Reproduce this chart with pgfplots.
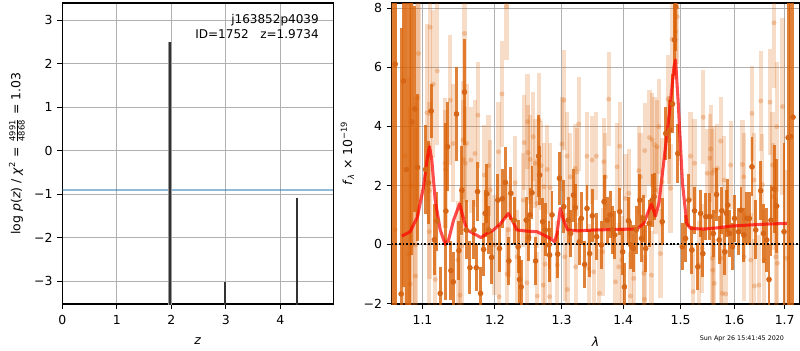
\documentclass[border=0pt]{standalone}
\usepackage{amsmath}
\usepackage{fontspec}
\setmainfont{DejaVu Sans}
\usepackage{pgfplots}
\pgfplotsset{compat=1.18}
\usepackage{pgfplotstable}

\definecolor{dorange}{RGB}{217,95,2}
\definecolor{darkpt}{RGB}{214,102,22}
\definecolor{gridgray}{RGB}{176,176,176}
\definecolor{tabblue}{RGB}{31,119,180}

\pgfplotstableread{
x y e
1.0612 9.0 12
1.0645 6.11 9
1.0722 -1.68 9
1.0752 5.54 7
1.0791 2.54 6
1.0829 -3.0 12
1.0861 4.15 4.5
1.0900 4.59 3.5
1.0934 2.61 2.5
1.1040 2.54 1.5
1.1079 2.09 1.4
1.1115 4.52 0.9
1.1158 0.16 1.2
1.1193 0.79 1.0
1.1237 -1.66 0.9
1.1314 1.13 3.0
1.1336 3.31 1.5
1.1382 -0.89 1.0
1.1414 -1.27 1.0
1.1459 4.42 1.6
1.1492 -0.21 1.0
1.1533 1.83 1.5
1.1569 5.16 1.8
1.1593 0.49 1.0
1.1645 -0.79 0.9
1.1701 0.49 1.0
1.1734 -0.79 0.8
1.1752 1.79 1.0
1.1795 -1.66 0.9
1.1838 -0.17 0.9
1.1861 1.05 0.8
1.1885 1.71 1.0
1.1908 0.49 0.8
1.1951 -0.44 0.9
1.2043 1.50 0.9
1.2066 -0.14 0.8
1.2110 1.55 1.0
1.2153 2.10 1.2
1.2203 -0.56 0.8
1.2232 1.73 0.9
1.2281 0.82 0.8
1.2340 -0.08 0.9
1.2360 -1.19 0.8
1.2385 -1.44 0.9
1.2460 0.82 0.8
1.2495 0.24 0.8
1.2516 1.00 0.9
1.2546 1.75 0.9
1.2601 -0.56 0.8
1.2647 2.99 1.4
1.2662 2.35 1.0
1.2708 0.77 0.8
1.2748 0.49 0.9
1.2806 -0.02 0.8
1.2815 -0.36 0.9
1.2852 1.00 0.8
1.2941 -0.33 0.8
1.2967 2.24 0.9
1.3035 1.28 0.9
1.3105 0.82 0.8
1.3143 0.37 0.8
1.3188 1.67 0.9
1.3217 1.25 0.8
1.3281 0.09 0.8
1.3313 0.88 0.9
1.3366 -0.68 0.8
1.3404 1.22 0.8
1.3447 -0.31 0.8
1.3491 0.97 0.9
1.3561 0.26 0.8
1.3638 -0.02 0.8
1.3682 1.45 0.9
1.3737 0.82 0.8
1.3781 1.00 0.8
1.3824 0.49 0.8
1.3858 0.32 0.8
1.3942 1.11 0.8
1.3992 -0.25 0.8
1.4021 -1.44 0.8
1.4089 0.80 0.8
1.4128 -0.02 0.8
1.4169 -0.14 0.8
1.4220 0.49 0.8
1.4282 1.50 0.9
1.4311 0.20 0.8
1.4340 0.88 0.8
1.4385 -0.14 0.8
1.4444 0.71 0.8
1.4496 1.50 0.9
1.4531 1.62 0.8
1.4672 0.77 0.8
1.4735 3.76 0.9
1.4806 3.88 1.0
1.4855 4.76 1.0
1.4891 6.93 1.2
1.4914 8.05 1.5
1.4950 3.08 1.0
1.5030 -0.08 0.8
1.5090 0.20 0.8
1.5150 1.50 0.9
1.5205 -0.19 0.8
1.5254 1.14 0.8
1.5315 -0.76 0.8
1.5365 1.05 0.8
1.5408 -0.31 0.8
1.5463 0.94 0.8
1.5538 0.94 0.8
1.5601 0.37 0.8
1.5663 1.69 0.9
1.5713 0.15 0.8
1.5763 1.14 0.8
1.5820 -0.25 0.8
1.5852 1.05 0.8
1.5876 1.33 0.9
1.5909 0.37 0.8
1.5966 -0.08 0.8
1.6004 0.88 0.8
1.6081 0.43 0.8
1.6129 1.16 0.8
1.6184 0.32 0.9
1.6240 0.88 0.9
1.6293 0.88 0.9
1.6344 2.63 1.0
1.6417 0.49 1.0
1.6516 1.82 1.0
1.6570 0.37 1.0
1.6636 0.15 1.1
1.6682 -1.19 1.2
1.6722 0.82 1.2
1.6783 1.88 1.5
1.6838 1.30 1.6
1.6987 0.43 3.0
1.7069 3.62 9
1.7123 3.65 9
1.7171 4.31 9
}\darktab

\pgfplotstableread{
x y e
1.0645 0.5 9
1.0773 3.0 9
1.0855 2.0 8
1.0947 6.47 5
1.1102 7.36 3
1.0934 4.97 4
1.1058 4.46 3
1.0904 -0.02 5
1.0821 -0.34 6
1.0838 -1.34 6
1.0908 -1.07 5
1.1089 0.43 3
1.1092 1.82 3
1.1197 5.88 2.5
1.1145 5.43 2.5
1.1171 -1.19 2.5
1.1373 4.89 2.2
1.1302 2.75 2.2
1.1307 2.54 2.0
1.1410 3.42 2.0
1.1547 3.54 2.0
1.1569 7.15 2.0
1.1597 3.42 2.0
1.1555 2.88 2.0
1.1580 2.75 1.9
1.1528 -0.06 2.0
1.1478 -0.53 2.0
1.1506 -1.72 2.0
1.1659 2.86 1.8
1.1715 3.08 1.8
1.1758 4.38 1.8
1.1847 2.35 1.7
1.1908 2.67 1.7
1.1933 1.84 1.7
1.1994 -0.02 1.7
1.2052 3.14 1.7
1.2062 -1.77 1.7
1.2101 5.10 1.8
1.2168 8.06 1.8
1.2174 -1.00 1.6
1.2198 0.49 1.6
1.2296 2.09 1.6
1.2321 -0.42 1.6
1.2415 1.50 1.6
1.2430 3.45 1.6
1.2471 -1.30 1.5
1.2480 4.16 1.6
1.2486 3.11 1.6
1.2520 2.88 1.5
1.2565 3.65 1.5
1.2596 2.75 1.5
1.2622 1.39 1.5
1.2628 -1.75 1.5
1.2657 4.21 1.6
1.2687 2.67 1.5
1.2714 -1.38 1.5
1.2729 1.95 1.5
1.2748 -0.67 1.5
1.2779 2.54 1.5
1.2815 -1.77 1.5
1.2825 1.92 1.5
1.2934 -0.70 1.5
1.3006 3.40 1.6
1.3038 4.89 1.7
1.3050 -0.42 1.5
1.3085 2.99 1.5
1.3092 -1.53 1.5
1.3138 2.29 1.5
1.3217 2.58 1.5
1.3222 -0.76 1.5
1.3244 2.46 1.5
1.3270 4.08 1.6
1.3404 2.99 1.5
1.3430 -0.81 1.5
1.3485 2.86 1.5
1.3512 -0.93 1.5
1.3556 2.99 1.5
1.3605 -1.66 1.5
1.3659 -0.25 1.5
1.3676 2.80 1.5
1.3704 2.29 1.5
1.3758 4.92 1.6
1.3870 -1.27 1.5
1.3898 2.63 1.5
1.3925 -0.76 1.5
1.3942 3.33 1.5
1.3976 -0.53 1.5
1.4038 1.56 1.5
1.4094 1.73 1.5
1.4123 -1.75 1.5
1.4179 -1.15 1.5
1.4265 2.50 1.5
1.4294 2.29 1.5
1.4351 -0.98 1.5
1.4363 -1.86 1.5
1.4368 3.18 1.6
1.4450 3.62 1.6
1.4484 -1.04 1.5
1.4496 3.54 1.6
1.4537 3.39 1.6
1.4554 1.84 1.5
1.4584 3.31 1.6
1.4612 3.99 1.6
1.4642 -0.31 1.5
1.4672 2.12 1.5
1.4778 4.92 1.5
1.4789 3.54 1.5
1.4820 1.90 1.5
1.4849 6.95 1.6
1.4909 7.21 1.6
1.4939 7.72 1.6
1.5181 2.99 1.5
1.5230 -1.60 1.5
1.5254 2.75 1.5
1.5334 -0.70 1.5
1.5396 -0.14 1.5
1.5415 4.31 1.6
1.5489 2.41 1.5
1.5538 2.92 1.5
1.5551 3.23 1.5
1.5582 2.41 1.5
1.5585 -0.47 1.5
1.5590 -0.87 1.5
1.5614 2.52 1.5
1.5620 -1.32 1.5
1.5676 2.58 1.5
1.5740 3.50 1.5
1.5745 -0.47 1.5
1.5773 -1.66 1.5
1.5805 2.18 1.5
1.5835 -1.68 1.5
1.5930 2.69 1.5
1.6157 2.71 1.5
1.6184 2.29 1.5
1.6190 -0.42 1.5
1.6318 -0.53 1.6
1.6344 4.44 1.6
1.6384 2.18 1.6
1.6390 -1.41 1.6
1.6482 -1.38 1.7
1.6516 4.86 1.7
1.6550 2.03 1.7
1.6583 -0.53 1.7
1.6703 4.82 1.8
1.6750 2.69 1.8
1.6755 1.62 1.8
1.6783 7.51 2.2
1.6817 -0.42 2.0
1.6838 3.99 2.2
1.6851 -0.64 2.0
1.6953 4.67 3.0
1.7041 -0.47 3.0
}\lighttab

\pgfplotsset{
  mpl/.style={
    scale only axis,
    anchor=south west,
    grid=major,
    grid style={gridgray, line width=0.8bp},
    axis line style={black, line width=0.8bp},
    tick align=outside,
    major tick length=3.5bp,
    tick style={black, line width=0.8bp},
    minor tick num=0,
    xtick pos=bottom, ytick pos=left,
    tick label style={font=\fontsize{9}{11}\selectfont},
    xticklabel style={yshift=-1bp},
    label style={font=\fontsize{9}{11}\selectfont},
    xlabel style={yshift=-2.5bp},
  }
}

\begin{document}
\begin{tikzpicture}[x=1bp,y=1bp]
\useasboundingbox (0,0) rectangle (576,252);

% ---------- left panel ----------
\begin{axis}[mpl,
  at={(44.86bp,33.12bp)},
  width=195.1bp, height=216.7bp,
  xmin=0, xmax=4.97, ymin=-3.525, ymax=3.395,
  xtick={0,1,2,3,4}, xticklabels={0,1,2,3,4},
  ytick={-3,-2,-1,0,1,2,3},
  yticklabels={−3,−2,−1,0,1,2,3},
  xlabel={\textit{z}},
  ylabel={log \textit{p}(\textit{z}) / \textit{χ}\textsuperscript{2} = $\frac{\text{4991}}{\text{4868}}$ = 1.03},
  clip=true,
]
\addplot[tabblue, opacity=0.5, line width=1.5bp] coordinates {(0,-0.9) (4.97,-0.9)};
\addplot[black!40, line width=3.4bp] coordinates {(1.9734,-3.7) (1.9734,2.5)};
\addplot[black!80, line width=1.4bp] coordinates {(1.9734,-3.7) (1.9734,2.5)};
\addplot[black!80, line width=1.4bp] coordinates {(2.99,-3.7) (2.99,-3.02)};
\addplot[black!80, line width=1.4bp] coordinates {(4.31,-3.7) (4.31,-1.08)};
\node[anchor=north east, align=right, inner sep=0pt, font=\fontsize{8.7}{10.8}\selectfont]
  at (axis cs:4.71,3.13) {j163852p4039\\ID=1752\ \ \ z=1.9734};
\end{axis}

% ---------- right panel ----------
\begin{axis}[mpl,
  at={(282.0bp,33.12bp)},
  width=293.5bp, height=216.7bp,
  xmode=log,
  xmin=1.06, xmax=1.73, ymin=-2.02, ymax=8.18,
  xtick={1.1,1.2,1.3,1.4,1.5,1.6,1.7},
  xticklabels={1.1,1.2,1.3,1.4,1.5,1.6,1.7},
  minor xtick={},
  ytick={-2,0,2,4,6,8},
  yticklabels={−2,0,2,4,6,8},
  xlabel={\textit{λ}},
  ylabel={\textit{f}\textsubscript{\textit{λ}} × 10\textsuperscript{−19}},
  clip=true,
]
\addplot[color=dorange, only marks, mark=*, mark size=1.8bp,
  mark options={draw=dorange, fill=dorange, draw opacity=0, fill opacity=0.28},
  error bars/.cd, y dir=both, y explicit, error mark=none,
  error bar style={line width=3bp, draw=dorange, opacity=0.22}]
  table[x=x, y=y, y error=e] {\lighttab};
\addplot[color=darkpt, only marks, mark=*, mark size=1.8bp,
  mark options={draw=darkpt, fill=darkpt},
  error bars/.cd, y dir=both, y explicit, error mark=none,
  error bar style={line width=2.1bp, draw=dorange, opacity=0.78}]
  table[x=x, y=y, y error=e] {\darktab};
\addplot[red, opacity=0.7, line width=2.2bp, line join=round] coordinates {
(1.0730,0.28) (1.0838,0.43) (1.0934,0.94) (1.1013,1.95) (1.1066,2.97)
(1.1093,3.31) (1.1124,2.86) (1.1169,1.50) (1.1237,0.49) (1.1305,0.00)
(1.1350,0.15) (1.1418,0.82) (1.1501,1.37) (1.1548,0.94) (1.1603,0.49)
(1.1696,0.37) (1.1800,0.23) (1.1885,0.37) (1.1980,0.49) (1.2076,0.69)
(1.2197,1.05) (1.2262,0.77) (1.2321,0.49) (1.2470,0.45) (1.2622,0.43)
(1.2723,0.32) (1.2825,0.20) (1.2892,0.09) (1.2930,0.37) (1.2980,1.22)
(1.3032,0.82) (1.3096,0.49) (1.3244,0.46) (1.3567,0.49) (1.3898,0.51)
(1.4237,0.52) (1.4351,0.71) (1.4439,1.16) (1.4482,1.37) (1.4554,0.96)
(1.4614,1.39) (1.4703,2.86) (1.4792,4.33) (1.4882,6.02) (1.4909,6.25)
(1.4954,4.89) (1.5034,2.07) (1.5112,0.71) (1.5181,0.54) (1.5428,0.52)
(1.5678,0.56) (1.5930,0.62) (1.6318,0.66) (1.6649,0.69) (1.7045,0.71)
};
\addplot[black, line width=1.3bp, dash pattern=on 1.3bp off 1.3bp] coordinates {(1.06,0) (1.73,0)};
\end{axis}

\node[font=\fontsize{4.6}{5}\selectfont] at (534.2bp,7.9bp) {Sun Apr 26 15:41:45 2020};
\end{tikzpicture}
\end{document}
